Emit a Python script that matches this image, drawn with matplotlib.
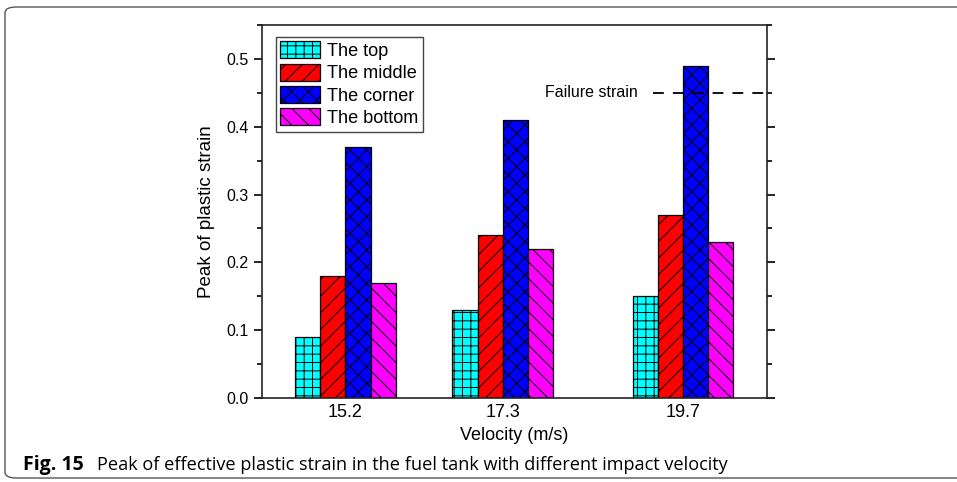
import numpy as np
import matplotlib
matplotlib.use('Agg')
import matplotlib.pyplot as plt
from matplotlib.patches import FancyBboxPatch
from matplotlib.ticker import MultipleLocator

# ============================================================
# DATA
# ============================================================
velocities = [15.2, 17.3, 19.7]
tick_labels = ['15.2', '17.3', '19.7']
series_names = ['The top', 'The middle', 'The corner', 'The bottom']
top_vals = [0.09, 0.13, 0.15]
middle_vals = [0.18, 0.24, 0.27]
corner_vals = [0.37, 0.41, 0.49]
bottom_vals = [0.17, 0.22, 0.23]
failure_strain = 0.45

# ============================================================
# STYLE
# ============================================================
plt.rcParams['font.family'] = ['Liberation Sans', 'DejaVu Sans']
plt.rcParams['hatch.linewidth'] = 0.7
plt.rcParams['hatch.color'] = 'black'

colors = ['#00ffff', '#ff0000', '#0000ff', '#ff00ff']
hatches = ['++', '//', 'xx', '\\\\']
all_vals = [top_vals, middle_vals, corner_vals, bottom_vals]

fig = plt.figure(figsize=(9.57, 4.82), dpi=100)
ax = fig.add_axes([262 / 957, 1 - 398 / 482, 505 / 957, 373 / 482])

# outer rounded frame
frame = FancyBboxPatch((5 / 957, 4 / 482), 1.2, 471 / 482,
                       boxstyle='round,pad=0,rounding_size=0.012',
                       transform=fig.transFigure, fill=False,
                       edgecolor='#555555', lw=1.0, clip_on=False)
fig.add_artist(frame)

width = 0.336
x = np.array(velocities)
for i, vals in enumerate(all_vals):
    ax.bar(x + (i - 2) * width, vals, width=width, align='edge',
           color=colors[i], edgecolor='black', linewidth=0.9,
           hatch=hatches[i], label=series_names[i], zorder=2)

# failure strain reference
ax.plot([19.30, 20.82], [failure_strain, failure_strain], color='black',
        lw=1.3, dashes=(6, 5), zorder=3)
ax.text(19.10, failure_strain, 'Failure strain', ha='right', va='center',
        fontsize=11.5)

ax.set_xlim(14.09, 20.82)
ax.set_ylim(0, 0.55)
ax.set_xticks(x)
ax.set_xticklabels(tick_labels, fontsize=13)
ax.tick_params(axis='x', length=0, pad=4)
ax.yaxis.set_major_locator(MultipleLocator(0.1))
ax.yaxis.set_minor_locator(MultipleLocator(0.05))
ax.tick_params(axis='y', which='major', direction='out', length=6, width=1.2,
               labelsize=11.5, right=True)
ax.tick_params(axis='y', which='minor', direction='out', length=3.5, width=1.2,
               right=True)
for s in ax.spines.values():
    s.set_linewidth(1.2)
    s.set_color('#222222')

ax.set_ylabel('Peak of plastic strain', fontsize=13.5, labelpad=8)
ax.set_xlabel('Velocity (m/s)', fontsize=13, labelpad=5)

leg = ax.legend(loc='upper left', bbox_to_anchor=(0.027, 0.968), fontsize=13.1,
                handlelength=2.2, handleheight=1.05, handletextpad=0.35,
                labelspacing=0.2, borderpad=0.25, borderaxespad=0,
                fancybox=False, framealpha=1, edgecolor='#444444')
leg.get_frame().set_linewidth(1.0)

# caption
fig.text(23 / 957, 1 - 470 / 482, 'Fig. 15', fontsize=14, fontweight='bold',
         family=['Open Sans', 'DejaVu Sans'], va='baseline')
fig.text(97 / 957, 1 - 470 / 482,
         'Peak of effective plastic strain in the fuel tank with different impact velocity',
         fontsize=13.1, family=['Open Sans', 'DejaVu Sans'], va='baseline')

fig.savefig('out.png', dpi=100)
